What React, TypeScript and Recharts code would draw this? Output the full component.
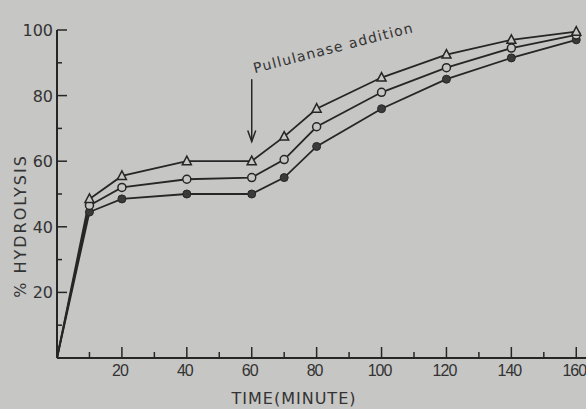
import React from "react";
import {
  LineChart,
  Line,
  XAxis,
  YAxis,
  ReferenceLine,
  ReferenceDot,
} from "recharts";

// time in minutes and % hydrolysis for the three curves
const TIME = [0, 10, 20, 40, 60, 70, 80, 100, 120, 140, 160];
const TRIANGLE = [0, 48.5, 55.5, 60, 60, 67.5, 76, 85.5, 92.5, 97, 99.5];
const OPEN_CIRCLE = [0, 46.5, 52, 54.5, 55, 60.5, 70.5, 81, 88.5, 94.5, 98.5];
const FILLED_CIRCLE = [0, 44.5, 48.5, 50, 50, 55, 64.5, 76, 85, 91.5, 97];

const X_TICKS = [10, 20, 30, 40, 50, 60, 70, 80, 90, 100, 110, 120, 130, 140, 150, 160];
const Y_TICKS = [10, 20, 30, 40, 50, 60, 70, 80, 90, 100];

const rows = TIME.map((t, i) => ({
  t,
  tri: TRIANGLE[i],
  open: OPEN_CIRCLE[i],
  filled: FILLED_CIRCLE[i],
}));

const INK = "#262626";
const BG = "#c6c6c4";
const FONT = "'DejaVu Sans', sans-serif";

function XTick({ x, y, payload }: any) {
  const major = payload.value % 20 === 0;
  return (
    <g>
      <line x1={x} x2={x} y1={y} y2={y - (major ? 11 : 6)} stroke={INK} strokeWidth={1.5} />
      {major && (
        <text
          x={x - 2}
          y={y + 18}
          textAnchor="middle"
          fontSize={16}
          fill="#333"
          fontFamily="'Liberation Sans', sans-serif"
          letterSpacing={-1}
        >
          {payload.value}
        </text>
      )}
    </g>
  );
}

function YTick({ x, y, payload }: any) {
  const major = payload.value % 20 === 0;
  return (
    <g>
      <line x1={x} x2={x + (major ? 10 : 5)} y1={y} y2={y} stroke={INK} strokeWidth={1.5} />
      {major && (
        <text x={x - 4} y={y + 6} textAnchor="end" fontSize={16} fill="#333" fontFamily={FONT}>
          {payload.value}
        </text>
      )}
    </g>
  );
}

function TriangleDot({ cx, cy, payload }: any) {
  if (payload.t === 0) return <g />;
  return (
    <path
      d={`M${cx},${cy - 5} L${cx + 4.5},${cy + 3.5} L${cx - 4.5},${cy + 3.5} Z`}
      fill={BG}
      stroke={INK}
      strokeWidth={1.5}
    />
  );
}

function OpenDot({ cx, cy, payload }: any) {
  if (payload.t === 0) return <g />;
  return <circle cx={cx} cy={cy} r={4} fill={BG} stroke={INK} strokeWidth={1.5} />;
}

function FilledDot({ cx, cy, payload }: any) {
  if (payload.t === 0) return <g />;
  return <circle cx={cx} cy={cy} r={4} fill="#3a3a3a" stroke={INK} strokeWidth={1} />;
}

function ArrowHead({ cx, cy }: any) {
  return (
    <path
      d={`M${cx - 4},${cy - 11} L${cx},${cy} L${cx + 4},${cy - 11}`}
      fill="none"
      stroke={INK}
      strokeWidth={1.5}
    />
  );
}

function Note({ cx, cy }: any) {
  return (
    <text
      x={cx + 3}
      y={cy - 6}
      transform={`rotate(-14.5, ${cx + 3}, ${cy - 6})`}
      fontSize={14}
      fill="#333"
      fontFamily={FONT}
      letterSpacing={1.2}
    >
      Pullulanase  addition
    </text>
  );
}

function YLabel() {
  return (
    <text
      x={20}
      y={226}
      transform="rotate(-90, 20, 226)"
      textAnchor="middle"
      dominantBaseline="central"
      fontSize={16}
      fill="#333"
      fontFamily={FONT}
      letterSpacing={2}
    >
      % HYDROLYSIS
    </text>
  );
}

function XLabel() {
  return (
    <text x={294} y={404} textAnchor="middle" fontSize={16} fill="#333" fontFamily={FONT} letterSpacing={1}>
      TIME(MINUTE)
    </text>
  );
}

export default function App() {
  return (
    <div style={{ position: "fixed", left: 0, top: 0, width: 586, height: 409, background: BG }}>
      <LineChart width={586} height={409} data={rows} margin={{ top: 30, right: 0, bottom: 0, left: 0 }}>
        <XAxis
          dataKey="t"
          type="number"
          domain={[0, 163]}
          ticks={X_TICKS}
          tick={<XTick />}
          tickLine={false}
          tickSize={0}
          tickMargin={0}
          interval={0}
          height={51}
          axisLine={{ stroke: INK, strokeWidth: 2 }}
          label={<XLabel />}
        />
        <YAxis
          type="number"
          domain={[0, 100]}
          ticks={Y_TICKS}
          tick={<YTick />}
          tickLine={false}
          tickSize={0}
          tickMargin={0}
          interval={0}
          width={57}
          axisLine={{ stroke: INK, strokeWidth: 2 }}
          label={<YLabel />}
        />
        <ReferenceLine segment={[{ x: 60, y: 85 }, { x: 60, y: 66 }]} stroke={INK} strokeWidth={1.5} />
        <ReferenceDot x={60} y={66} shape={<ArrowHead />} />
        <ReferenceDot x={60} y={85} shape={<Note />} />
        <Line dataKey="filled" stroke={INK} strokeWidth={1.8} dot={<FilledDot />} isAnimationActive={false} />
        <Line dataKey="open" stroke={INK} strokeWidth={1.8} dot={<OpenDot />} isAnimationActive={false} />
        <Line dataKey="tri" stroke={INK} strokeWidth={1.8} dot={<TriangleDot />} isAnimationActive={false} />
      </LineChart>
    </div>
  );
}
